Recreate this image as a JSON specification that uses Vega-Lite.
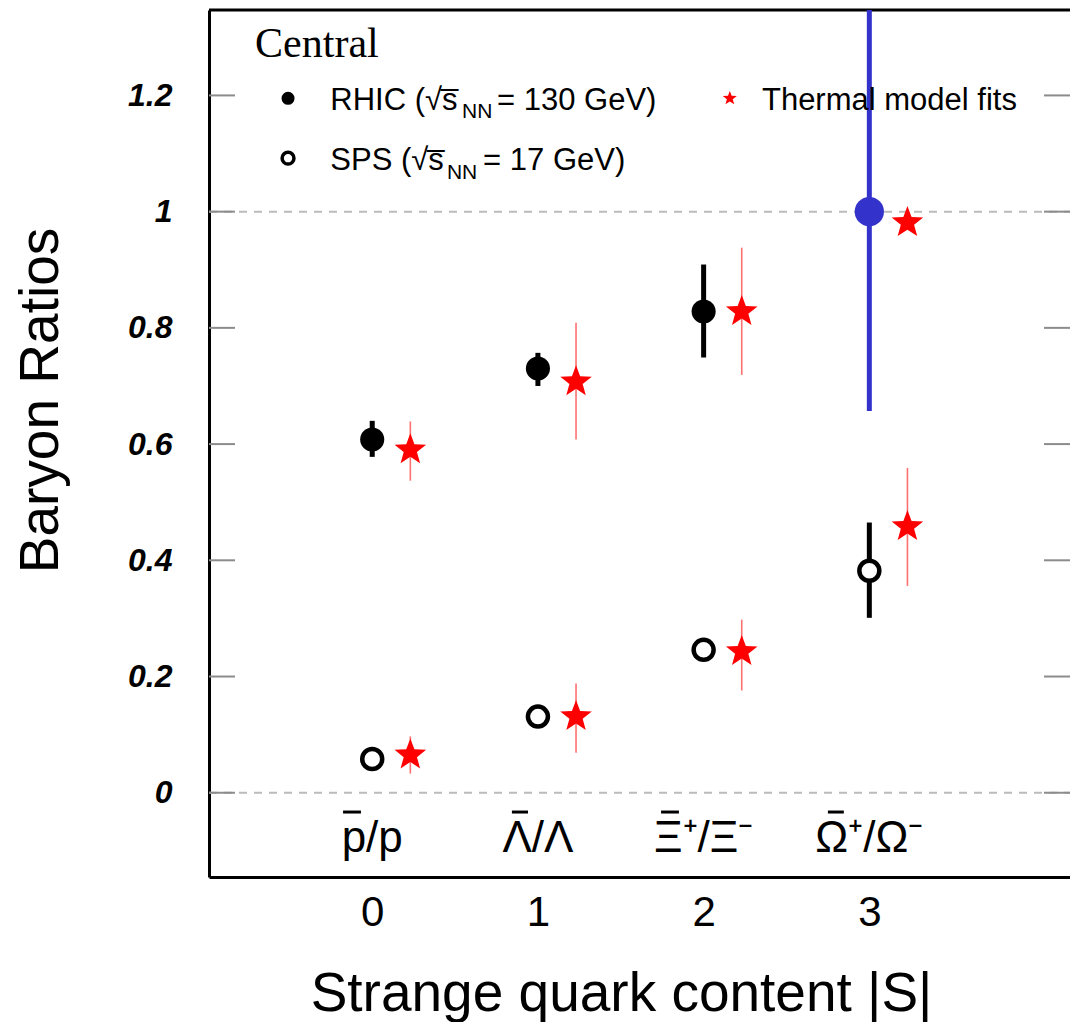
{
  "$schema": "https://vega.github.io/schema/vega-lite/v6.json",
  "width": 861,
  "height": 867,
  "autosize": {"type": "none"},
  "padding": {"left": 209, "top": 10, "right": 0, "bottom": 145},
  "background": "white",
  "config": {"view": {"stroke": null}, "font": "Liberation Sans"},
  "datasets": {
    "frame": [{"x": -0.985, "x2": 4.211, "y": 1.347}],
    "dashed": [{"x": -0.985, "x2": 4.211, "y": 0}, {"x": -0.985, "x2": 4.211, "y": 1}],
    "ticks": [
      {"x": -0.985, "x2": -0.828, "y": 0}, {"x": -0.985, "x2": -0.828, "y": 0.2}, {"x": -0.985, "x2": -0.828, "y": 0.4},
      {"x": -0.985, "x2": -0.828, "y": 0.6}, {"x": -0.985, "x2": -0.828, "y": 0.8}, {"x": -0.985, "x2": -0.828, "y": 1},
      {"x": -0.985, "x2": -0.828, "y": 1.2},
      {"x": 4.054, "x2": 4.211, "y": 0}, {"x": 4.054, "x2": 4.211, "y": 0.2}, {"x": 4.054, "x2": 4.211, "y": 0.4},
      {"x": 4.054, "x2": 4.211, "y": 0.6}, {"x": 4.054, "x2": 4.211, "y": 0.8}, {"x": 4.054, "x2": 4.211, "y": 1},
      {"x": 4.054, "x2": 4.211, "y": 1.2}
    ],
    "points": [
      {"set": "RHIC", "x": 0, "y": 0.608},
      {"set": "RHIC", "x": 1, "y": 0.730},
      {"set": "RHIC", "x": 2, "y": 0.828},
      {"set": "RHIC3", "x": 3, "y": 1.0},
      {"set": "SPS", "x": 0, "y": 0.058},
      {"set": "SPS", "x": 1, "y": 0.131},
      {"set": "SPS", "x": 2, "y": 0.246},
      {"set": "SPS", "x": 3, "y": 0.382},
      {"set": "Thermal", "x": 0.23, "y": 0.590},
      {"set": "Thermal", "x": 1.23, "y": 0.707},
      {"set": "Thermal", "x": 2.23, "y": 0.828},
      {"set": "Thermal", "x": 3.23, "y": 0.981},
      {"set": "Thermal", "x": 0.23, "y": 0.065},
      {"set": "Thermal", "x": 1.23, "y": 0.131},
      {"set": "Thermal", "x": 2.23, "y": 0.243},
      {"set": "Thermal", "x": 3.23, "y": 0.458}
    ],
    "errors": [
      {"set": "RHIC", "x": 0, "y": 0.578, "y2": 0.640},
      {"set": "RHIC", "x": 1, "y": 0.700, "y2": 0.757},
      {"set": "RHIC", "x": 2, "y": 0.749, "y2": 0.909},
      {"set": "RHIC3", "x": 3, "y": 0.657, "y2": 1.347},
      {"set": "SPS", "x": 3, "y": 0.301, "y2": 0.465},
      {"set": "Thermal", "x": 0.23, "y": 0.537, "y2": 0.639},
      {"set": "Thermal", "x": 1.23, "y": 0.608, "y2": 0.809},
      {"set": "Thermal", "x": 2.23, "y": 0.719, "y2": 0.938},
      {"set": "Thermal", "x": 0.23, "y": 0.033, "y2": 0.097},
      {"set": "Thermal", "x": 1.23, "y": 0.069, "y2": 0.188},
      {"set": "Thermal", "x": 2.23, "y": 0.176, "y2": 0.298},
      {"set": "Thermal", "x": 3.23, "y": 0.356, "y2": 0.559}
    ],
    "cats": [
      {"x": 0, "y": -0.102, "text": "p/p"},
      {"x": 1, "y": -0.102, "text": "Λ/Λ"},
      {"x": 2, "y": -0.102, "text": "Ξ⁺/Ξ⁻"},
      {"x": 3, "y": -0.102, "text": "Ω⁺/Ω⁻"}
    ],
    "bars": [
      {"x": -0.176, "x2": -0.068, "y": -0.0332},
      {"x": 0.843, "x2": 0.940, "y": -0.0332},
      {"x": 1.743, "x2": 1.851, "y": -0.0332},
      {"x": 2.750, "x2": 2.846, "y": -0.0332}
    ],
    "legsym": [
      {"sym": "RHIC", "x": -0.508, "y": 1.195},
      {"sym": "SPS", "x": -0.508, "y": 1.092},
      {"sym": "Thermal", "x": 2.158, "y": 1.195}
    ],
    "legtext": [
      {"x": -0.253, "y": 1.175, "text": "RHIC (√s̅"},
      {"x": 0.753, "y": 1.175, "text": "= 130 GeV)"},
      {"x": -0.253, "y": 1.071, "text": "SPS (√s̅"},
      {"x": 0.669, "y": 1.071, "text": "= 17 GeV)"},
      {"x": 2.352, "y": 1.175, "text": "Thermal model fits"}
    ],
    "legsub": [
      {"x": 0.542, "y": 1.161, "text": "NN"},
      {"x": 0.451, "y": 1.057, "text": "NN"}
    ],
    "central": [{"x": -0.707, "y": 1.266, "text": "Central"}]
  },
  "encoding": {
    "x": {
      "field": "x", "type": "quantitative",
      "scale": {"domain": [-0.985, 4.211], "nice": false, "zero": false},
      "axis": {
        "values": [0, 1, 2, 3], "format": "d", "grid": false, "ticks": false, "tickSize": 0,
        "domain": true, "domainColor": "black", "domainWidth": 3,
        "labelFont": "Liberation Sans", "labelFontSize": 42, "labelColor": "black",
        "labelBaseline": "alphabetic", "labelPadding": 48,
        "title": "Strange quark content |S|", "titleFont": "Liberation Sans", "titleFontSize": 55,
        "titleFontWeight": "normal", "titleColor": "black",
        "titleX": 412, "titleY": 133, "titleBaseline": "alphabetic", "titleAlign": "center"
      }
    },
    "y": {
      "field": "y", "type": "quantitative",
      "scale": {"domain": [-0.145, 1.347], "nice": false, "zero": false},
      "axis": {
        "values": [0, 0.2, 0.4, 0.6, 0.8, 1, 1.2], "format": "~g", "grid": false, "ticks": false, "tickSize": 0,
        "domain": true, "domainColor": "black", "domainWidth": 3,
        "labelFont": "Liberation Sans", "labelFontSize": 32, "labelFontWeight": "bold", "labelFontStyle": "italic",
        "labelColor": "black", "labelPadding": 37, "labelBaseline": "middle",
        "title": "Baryon Ratios", "titleFont": "Liberation Sans", "titleFontSize": 55,
        "titleFontWeight": "normal", "titleColor": "black", "titleAngle": 270,
        "titleX": -152, "titleY": 390, "titleBaseline": "alphabetic", "titleAlign": "center"
      }
    }
  },
  "layer": [
    {"data": {"name": "dashed"}, "mark": {"type": "rule", "color": "#bbbbbb", "strokeWidth": 2, "strokeDash": [8, 7]},
     "encoding": {"x2": {"field": "x2"}}},
    {"data": {"name": "ticks"}, "mark": {"type": "rule", "color": "#8c8c8c", "strokeWidth": 2},
     "encoding": {"x2": {"field": "x2"}}},
    {"data": {"name": "frame"}, "mark": {"type": "rule", "color": "black", "strokeWidth": 3},
     "encoding": {"x2": {"field": "x2"}}},
    {"data": {"name": "errors"}, "transform": [{"filter": "datum.set == 'Thermal'"}],
     "mark": {"type": "rule", "color": "#ff4040", "strokeWidth": 1.6, "opacity": 0.75},
     "encoding": {"y2": {"field": "y2"}}},
    {"data": {"name": "errors"}, "transform": [{"filter": "datum.set == 'RHIC' || datum.set == 'SPS'"}],
     "mark": {"type": "rule", "color": "black", "strokeWidth": 5},
     "encoding": {"y2": {"field": "y2"}}},
    {"data": {"name": "errors"}, "transform": [{"filter": "datum.set == 'RHIC3'"}],
     "mark": {"type": "rule", "color": "#3333cc", "strokeWidth": 5},
     "encoding": {"y2": {"field": "y2"}}},
    {"data": {"name": "points"}, "transform": [{"filter": "datum.set == 'Thermal'"}],
     "mark": {"type": "point", "shape": "M0,-1L0.247,-0.34L0.951,-0.309L0.399,0.13L0.588,0.809L0,0.42L-0.588,0.809L-0.399,0.13L-0.951,-0.309L-0.247,-0.34Z",
              "filled": true, "fill": "red", "stroke": null, "size": 1100, "opacity": 1}},
    {"data": {"name": "points"}, "transform": [{"filter": "datum.set == 'RHIC'"}],
     "mark": {"type": "circle", "color": "black", "size": 580, "opacity": 1}},
    {"data": {"name": "points"}, "transform": [{"filter": "datum.set == 'SPS'"}],
     "mark": {"type": "point", "shape": "circle", "filled": true, "fill": "white", "stroke": "black", "strokeWidth": 4.5, "size": 400, "opacity": 1}},
    {"data": {"name": "points"}, "transform": [{"filter": "datum.set == 'RHIC3'"}],
     "mark": {"type": "circle", "color": "#3333cc", "size": 855, "opacity": 1}},
    {"data": {"name": "cats"},
     "mark": {"type": "text", "font": "Liberation Sans", "fontSize": 44, "color": "black", "align": "center", "baseline": "alphabetic"},
     "encoding": {"text": {"field": "text"}}},
    {"data": {"name": "bars"}, "mark": {"type": "rule", "color": "black", "strokeWidth": 3},
     "encoding": {"x2": {"field": "x2"}}},
    {"data": {"name": "legsym"}, "transform": [{"filter": "datum.sym == 'RHIC'"}],
     "mark": {"type": "circle", "color": "black", "size": 170, "opacity": 1}},
    {"data": {"name": "legsym"}, "transform": [{"filter": "datum.sym == 'SPS'"}],
     "mark": {"type": "point", "shape": "circle", "filled": true, "fill": "white", "stroke": "black", "strokeWidth": 3.5, "size": 140, "opacity": 1}},
    {"data": {"name": "legsym"}, "transform": [{"filter": "datum.sym == 'Thermal'"}],
     "mark": {"type": "point", "shape": "M0,-1L0.247,-0.34L0.951,-0.309L0.399,0.13L0.588,0.809L0,0.42L-0.588,0.809L-0.399,0.13L-0.951,-0.309L-0.247,-0.34Z",
              "filled": true, "fill": "red", "stroke": null, "size": 220, "opacity": 1}},
    {"data": {"name": "legtext"},
     "mark": {"type": "text", "font": "Liberation Sans", "fontSize": 31, "color": "black", "align": "left", "baseline": "alphabetic"},
     "encoding": {"text": {"field": "text"}}},
    {"data": {"name": "legsub"},
     "mark": {"type": "text", "font": "Liberation Sans", "fontSize": 21, "color": "black", "align": "left", "baseline": "alphabetic"},
     "encoding": {"text": {"field": "text"}}},
    {"data": {"name": "central"},
     "mark": {"type": "text", "font": "Liberation Serif", "fontSize": 42, "color": "black", "align": "left", "baseline": "alphabetic"},
     "encoding": {"text": {"field": "text"}}}
  ]
}
